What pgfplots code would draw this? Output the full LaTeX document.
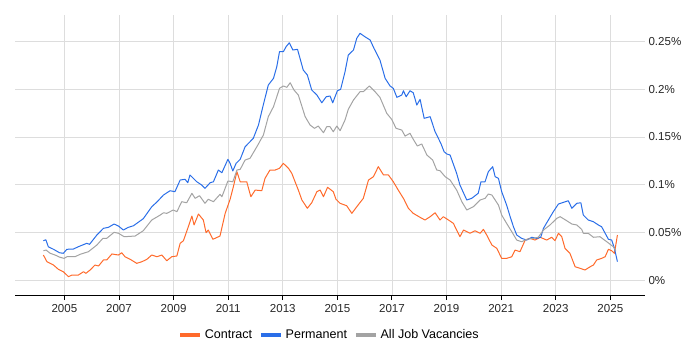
\documentclass[border=0pt]{standalone}
\usepackage{pgfplots}
\pgfplotsset{compat=1.18}
\usepackage{fontspec}
\setmainfont{Liberation Sans}
\definecolor{contract}{HTML}{FF6A2B}
\definecolor{perm}{HTML}{2A6EE8}
\definecolor{allj}{HTML}{A3A3A3}
\definecolor{gridc}{HTML}{DDDDDD}
\begin{document}
\begin{tikzpicture}
\useasboundingbox (-15bp,-55bp) rectangle (685bp,295bp);
\begin{axis}[
  at={(0,0)}, anchor=south west,
  width=630bp, height=280bp, scale only axis,
  xmin=2003.19, xmax=2026.27, ymin=-0.0157, ymax=0.2778,
  axis x line*=bottom, axis y line*=right,
  x axis line style={draw=black, line width=1bp, -},
  y axis line style={draw=none},
  xtick={2005,2007,2009,2011,2013,2015,2017,2019,2021,2023,2025},
  xticklabels={2005,2007,2009,2011,2013,2015,2017,2019,2021,2023,2025},
  ytick={0,0.05,0.1,0.15,0.2,0.25},
  yticklabels={0\%,0.05\%,0.1\%,0.15\%,0.2\%,0.25\%},
  xmajorgrids, ymajorgrids,
  major grid style={gridc, line width=0.8bp},
  x tick style={black, line width=1bp},
  xtick align=outside,
  major tick length=5bp,
  y tick style={draw=none},
  tick label style={font=\fontsize{11.6}{13}\selectfont, text=black!85},
  yticklabel style={anchor=west, xshift=0bp},
  xticklabel style={yshift=-1bp},
  legend style={at={(0.5,-0.143)}, anchor=center, draw=none, fill=none,
    legend columns=3, font=\fontsize{12.6}{14}\selectfont,
    nodes={inner xsep=3bp, inner ysep=1bp},
    /tikz/every even column/.append style={column sep=4bp}},
  legend image code/.code={\draw[line width=3.5bp,#1] (0bp,0bp) -- (20bp,0bp);},
  every axis plot/.append style={line width=1bp, line join=round},
  clip=false,
]
\addplot[contract, mark=none] coordinates {
(2004.23,0.0262)(2004.36,0.0192)(2004.48,0.0175)(2004.60,0.0157)(2004.78,0.0112)(2004.96,0.0087)(2005.15,0.0035)(2005.27,0.0052)(2005.51,0.0052)(2005.70,0.0087)(2005.79,0.0070)(2005.94,0.0105)(2006.12,0.0157)(2006.25,0.0147)(2006.43,0.0210)(2006.55,0.0210)(2006.74,0.0273)(2006.98,0.0262)(2007.10,0.0286)(2007.22,0.0244)(2007.41,0.0217)(2007.65,0.0175)(2007.84,0.0192)(2008.02,0.0217)(2008.20,0.0262)(2008.39,0.0244)(2008.57,0.0262)(2008.75,0.0202)(2008.93,0.0244)(2009.12,0.0252)(2009.24,0.0385)(2009.36,0.0412)(2009.54,0.0559)(2009.67,0.0671)(2009.75,0.0577)(2009.91,0.0692)(2010.09,0.0629)(2010.19,0.0496)(2010.27,0.0524)(2010.44,0.0427)(2010.70,0.0461)(2010.89,0.0699)(2011.07,0.0846)(2011.19,0.0978)(2011.32,0.1135)(2011.44,0.1030)(2011.68,0.1030)(2011.83,0.0873)(2011.99,0.0943)(2012.23,0.0936)(2012.35,0.1066)(2012.53,0.1153)(2012.72,0.1153)(2012.88,0.1171)(2013.02,0.1223)(2013.21,0.1171)(2013.33,0.1118)(2013.57,0.0943)(2013.70,0.0839)(2013.90,0.0752)(2014.06,0.0810)(2014.25,0.0926)(2014.37,0.0943)(2014.49,0.0873)(2014.64,0.0972)(2014.85,0.0926)(2014.95,0.0846)(2015.10,0.0804)(2015.34,0.0779)(2015.53,0.0699)(2015.71,0.0768)(2015.95,0.0856)(2016.14,0.1048)(2016.32,0.1083)(2016.50,0.1188)(2016.69,0.1101)(2016.87,0.1101)(2017.05,0.1030)(2017.23,0.0943)(2017.44,0.0846)(2017.60,0.0752)(2017.78,0.0699)(2018.03,0.0657)(2018.21,0.0629)(2018.40,0.0664)(2018.58,0.0705)(2018.76,0.0629)(2018.88,0.0664)(2019.07,0.0629)(2019.25,0.0594)(2019.49,0.0454)(2019.62,0.0524)(2019.86,0.0490)(2020.04,0.0517)(2020.23,0.0490)(2020.35,0.0531)(2020.47,0.0472)(2020.66,0.0367)(2020.84,0.0332)(2021.02,0.0227)(2021.20,0.0227)(2021.39,0.0244)(2021.51,0.0314)(2021.69,0.0297)(2021.88,0.0419)(2022.06,0.0437)(2022.24,0.0419)(2022.43,0.0448)(2022.67,0.0419)(2022.85,0.0448)(2022.97,0.0412)(2023.10,0.0490)(2023.22,0.0454)(2023.34,0.0332)(2023.52,0.0280)(2023.71,0.0139)(2023.89,0.0123)(2024.07,0.0105)(2024.26,0.0139)(2024.38,0.0157)(2024.50,0.0210)(2024.68,0.0227)(2024.81,0.0244)(2024.93,0.0322)(2025.05,0.0307)(2025.15,0.0280)(2025.26,0.0472)
};
\addlegendentry{Contract}
\addplot[perm, mark=none] coordinates {
(2004.23,0.0412)(2004.32,0.0422)(2004.41,0.0349)(2004.60,0.0322)(2004.82,0.0286)(2004.96,0.0280)(2005.09,0.0322)(2005.33,0.0325)(2005.51,0.0349)(2005.82,0.0385)(2005.92,0.0374)(2006.19,0.0472)(2006.43,0.0542)(2006.61,0.0552)(2006.82,0.0587)(2006.98,0.0566)(2007.16,0.0524)(2007.34,0.0552)(2007.53,0.0569)(2007.89,0.0643)(2008.20,0.0768)(2008.39,0.0818)(2008.63,0.0891)(2008.87,0.0936)(2009.05,0.0926)(2009.24,0.1048)(2009.42,0.1056)(2009.52,0.1020)(2009.60,0.1101)(2009.85,0.1030)(2010.03,0.0996)(2010.15,0.0961)(2010.34,0.1020)(2010.46,0.1030)(2010.64,0.1153)(2010.77,0.1125)(2010.99,0.1265)(2011.07,0.1223)(2011.17,0.1143)(2011.29,0.1223)(2011.44,0.1265)(2011.62,0.1397)(2011.80,0.1450)(2011.92,0.1485)(2012.11,0.1625)(2012.27,0.1817)(2012.47,0.2044)(2012.66,0.2114)(2012.78,0.2236)(2012.88,0.2393)(2013.02,0.2393)(2013.12,0.2445)(2013.24,0.2487)(2013.37,0.2411)(2013.54,0.2418)(2013.75,0.2201)(2013.90,0.2149)(2014.06,0.1992)(2014.25,0.1939)(2014.43,0.1858)(2014.59,0.1921)(2014.73,0.1929)(2014.83,0.1858)(2015.00,0.1984)(2015.12,0.1999)(2015.28,0.2183)(2015.40,0.2358)(2015.59,0.2411)(2015.71,0.2534)(2015.83,0.2586)(2016.01,0.2550)(2016.20,0.2516)(2016.34,0.2429)(2016.56,0.2306)(2016.75,0.2114)(2016.93,0.2034)(2017.05,0.2009)(2017.18,0.1915)(2017.36,0.1939)(2017.42,0.1984)(2017.52,0.1921)(2017.66,0.1984)(2017.78,0.1963)(2017.91,0.1834)(2018.03,0.1894)(2018.18,0.1695)(2018.40,0.1712)(2018.58,0.1554)(2018.70,0.1485)(2018.79,0.1433)(2018.91,0.1345)(2019.01,0.1321)(2019.13,0.1310)(2019.37,0.1118)(2019.49,0.0996)(2019.74,0.0839)(2019.92,0.0856)(2020.16,0.0909)(2020.26,0.1030)(2020.41,0.1030)(2020.53,0.1135)(2020.69,0.1188)(2020.78,0.1083)(2020.90,0.1066)(2021.02,0.0926)(2021.20,0.0786)(2021.33,0.0664)(2021.45,0.0559)(2021.57,0.0472)(2021.75,0.0437)(2021.94,0.0419)(2022.12,0.0448)(2022.30,0.0437)(2022.45,0.0448)(2022.55,0.0542)(2022.73,0.0629)(2022.91,0.0716)(2023.10,0.0797)(2023.28,0.0814)(2023.46,0.0831)(2023.59,0.0752)(2023.77,0.0804)(2023.92,0.0810)(2024.01,0.0681)(2024.19,0.0629)(2024.38,0.0611)(2024.56,0.0577)(2024.68,0.0559)(2024.81,0.0490)(2024.93,0.0427)(2025.05,0.0419)(2025.15,0.0332)(2025.26,0.0192)
};
\addlegendentry{Permanent}
\addplot[allj, mark=none] coordinates {
(2004.23,0.0307)(2004.33,0.0314)(2004.48,0.0280)(2004.66,0.0262)(2004.84,0.0238)(2004.99,0.0227)(2005.09,0.0244)(2005.39,0.0244)(2005.57,0.0269)(2005.88,0.0297)(2006.19,0.0367)(2006.41,0.0437)(2006.55,0.0437)(2006.82,0.0500)(2006.98,0.0490)(2007.19,0.0454)(2007.59,0.0461)(2007.89,0.0517)(2008.20,0.0629)(2008.51,0.0681)(2008.63,0.0705)(2008.75,0.0699)(2008.99,0.0734)(2009.12,0.0716)(2009.30,0.0821)(2009.48,0.0810)(2009.67,0.0909)(2009.79,0.0856)(2009.95,0.0884)(2010.15,0.0804)(2010.27,0.0846)(2010.46,0.0821)(2010.70,0.0898)(2010.77,0.0873)(2010.99,0.1038)(2011.17,0.1030)(2011.32,0.1153)(2011.44,0.1160)(2011.62,0.1258)(2011.80,0.1276)(2012.05,0.1397)(2012.29,0.1520)(2012.47,0.1712)(2012.66,0.1817)(2012.78,0.1921)(2012.88,0.2009)(2013.02,0.2034)(2013.15,0.2020)(2013.27,0.2068)(2013.41,0.1992)(2013.57,0.1939)(2013.82,0.1712)(2014.00,0.1625)(2014.16,0.1590)(2014.30,0.1614)(2014.49,0.1544)(2014.61,0.1607)(2014.73,0.1607)(2014.85,0.1554)(2014.98,0.1614)(2015.10,0.1565)(2015.28,0.1677)(2015.40,0.1789)(2015.59,0.1887)(2015.83,0.1974)(2015.95,0.1974)(2016.17,0.2034)(2016.38,0.1974)(2016.56,0.1915)(2016.81,0.1747)(2016.99,0.1684)(2017.15,0.1590)(2017.36,0.1572)(2017.48,0.1509)(2017.66,0.1538)(2017.78,0.1475)(2017.93,0.1405)(2018.09,0.1426)(2018.28,0.1310)(2018.49,0.1258)(2018.64,0.1153)(2018.76,0.1146)(2018.95,0.1083)(2019.13,0.1048)(2019.37,0.0943)(2019.56,0.0821)(2019.74,0.0734)(2019.98,0.0768)(2020.23,0.0839)(2020.41,0.0856)(2020.53,0.0901)(2020.66,0.0891)(2020.78,0.0839)(2020.90,0.0786)(2021.02,0.0681)(2021.20,0.0594)(2021.39,0.0506)(2021.57,0.0419)(2021.75,0.0401)(2021.94,0.0427)(2022.18,0.0437)(2022.36,0.0448)(2022.55,0.0524)(2022.79,0.0577)(2023.04,0.0647)(2023.16,0.0664)(2023.40,0.0622)(2023.59,0.0587)(2023.77,0.0577)(2023.95,0.0531)(2024.01,0.0490)(2024.19,0.0490)(2024.38,0.0448)(2024.62,0.0454)(2024.87,0.0401)(2025.11,0.0349)(2025.20,0.0307)
};
\addlegendentry{All Job Vacancies}
\end{axis}
\end{tikzpicture}
\end{document}
